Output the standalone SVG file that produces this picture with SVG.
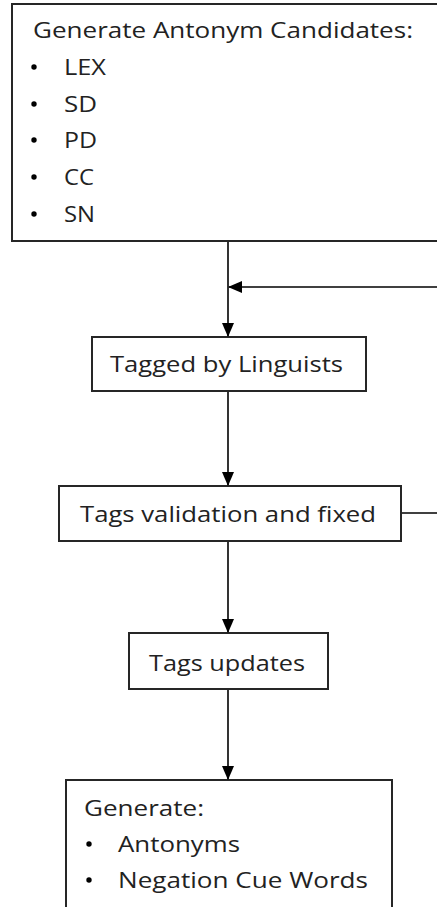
<svg xmlns="http://www.w3.org/2000/svg" width="437" height="907" viewBox="0 0 437 907">
<style>
.box{fill:#fff;stroke:#262626;stroke-width:2}
.t{font-family:"Open Sans","Liberation Sans",sans-serif;font-size:22px;fill:#222}
.c{stroke:#000;stroke-width:1.6;fill:none}
</style>
<defs>
<marker id="ah" markerWidth="14" markerHeight="12" refX="13" refY="6" orient="auto" markerUnits="userSpaceOnUse">
<path d="M0,0 L14,6 L0,12 Z" fill="#000"/>
</marker>
</defs>
<rect width="437" height="907" fill="#fff"/>
<g id="n1">
<path class="box" d="M440,4 H12 V241 H440"/>
<text class="t" x="33" y="38" textLength="380" lengthAdjust="spacingAndGlyphs">Generate Antonym Candidates:</text>
<circle cx="34" cy="67" r="2.7" fill="#000"/><text class="t" x="64" y="75" textLength="42" lengthAdjust="spacingAndGlyphs">LEX</text>
<circle cx="34" cy="104" r="2.7" fill="#000"/><text class="t" x="64" y="112" textLength="33" lengthAdjust="spacingAndGlyphs">SD</text>
<circle cx="34" cy="140" r="2.7" fill="#000"/><text class="t" x="64" y="148" textLength="33" lengthAdjust="spacingAndGlyphs">PD</text>
<circle cx="34" cy="177" r="2.7" fill="#000"/><text class="t" x="64" y="185" textLength="30" lengthAdjust="spacingAndGlyphs">CC</text>
<circle cx="34" cy="214" r="2.7" fill="#000"/><text class="t" x="64" y="222" textLength="31" lengthAdjust="spacingAndGlyphs">SN</text>
</g>
<g id="n2">
<rect class="box" x="92" y="337" width="274" height="54"/>
<text class="t" x="110" y="372" textLength="233" lengthAdjust="spacingAndGlyphs">Tagged by Linguists</text>
</g>
<g id="n3">
<rect class="box" x="59" y="486" width="342" height="55"/>
<text class="t" x="80" y="522" textLength="296" lengthAdjust="spacingAndGlyphs">Tags validation and fixed</text>
</g>
<g id="n4">
<rect class="box" x="129" y="633" width="199" height="56"/>
<text class="t" x="149" y="671" textLength="156" lengthAdjust="spacingAndGlyphs">Tags updates</text>
</g>
<g id="n5">
<path class="box" d="M66,910 V780 H392 V910"/>
<text class="t" x="84" y="816" textLength="120" lengthAdjust="spacingAndGlyphs">Generate:</text>
<circle cx="89" cy="844" r="2.7" fill="#000"/><text class="t" x="118" y="852" textLength="122" lengthAdjust="spacingAndGlyphs">Antonyms</text>
<circle cx="89" cy="880" r="2.7" fill="#000"/><text class="t" x="118" y="888" textLength="250" lengthAdjust="spacingAndGlyphs">Negation Cue Words</text>
</g>
<g id="connectors">
<line class="c" x1="228" y1="242" x2="228" y2="336" marker-end="url(#ah)"/>
<line class="c" x1="437" y1="287" x2="229" y2="287" marker-end="url(#ah)"/>
<line class="c" x1="228" y1="392" x2="228" y2="485" marker-end="url(#ah)"/>
<line class="c" x1="402" y1="513" x2="437" y2="513"/>
<line class="c" x1="228" y1="542" x2="228" y2="632" marker-end="url(#ah)"/>
<line class="c" x1="228" y1="690" x2="228" y2="779" marker-end="url(#ah)"/>
</g>
</svg>
